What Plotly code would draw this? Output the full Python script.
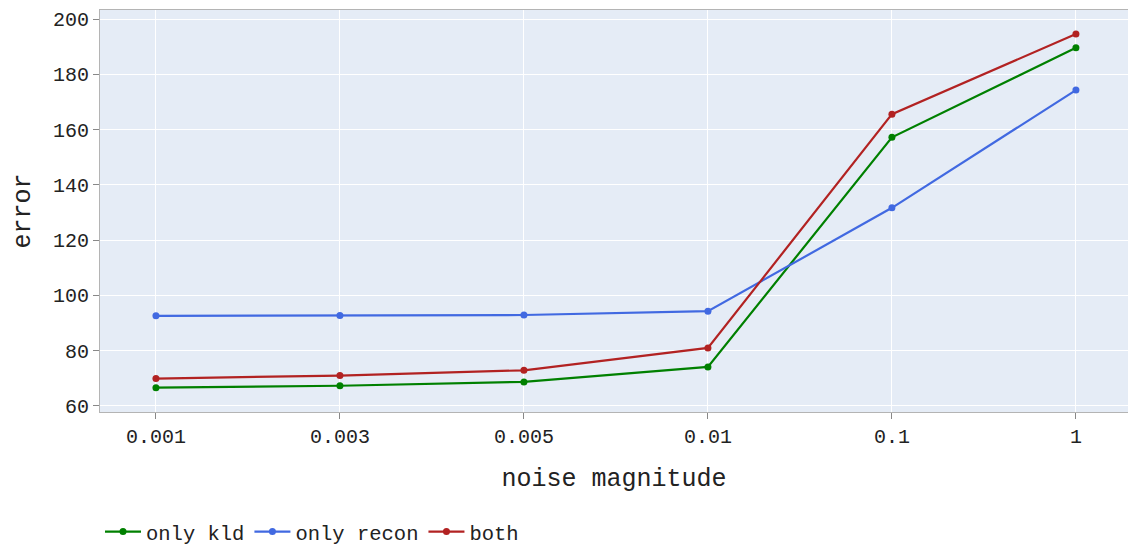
import plotly.graph_objects as go

noise_levels = ["0.001", "0.003", "0.005", "0.01", "0.1", "1"]
only_kld = [66.6, 67.3, 68.7, 74.1, 157.2, 189.6]
only_recon = [92.6, 92.7, 92.9, 94.3, 131.7, 174.3]
both = [69.9, 71.0, 72.9, 81.0, 165.6, 194.6]

FONT = "Liberation Mono, Courier New, monospace"

fig = go.Figure()
for name, vals, color in [
    ("only kld", only_kld, "green"),
    ("only recon", only_recon, "royalblue"),
    ("both", both, "firebrick"),
]:
    fig.add_trace(go.Scatter(
        x=noise_levels, y=vals, name=name, mode="lines+markers",
        line=dict(color=color, width=2.2), marker=dict(color=color, size=7),
    ))

axis_common = dict(
    showline=True, linecolor="#b4b4b4", linewidth=1, mirror=True,
    ticks="outside", ticklen=6, tickcolor="#888888",
    gridcolor="white", gridwidth=1, zeroline=False,
    tickfont=dict(family=FONT, size=20, color="#222"),
)

fig.update_layout(
    width=1128, height=550,
    margin=dict(l=100, r=0, t=10, b=138, autoexpand=False),
    plot_bgcolor="#E5ECF6", paper_bgcolor="white",
    font=dict(family=FONT, size=20, color="#222"),
    xaxis=dict(type="category", range=[-0.304, 5.283],
               title=dict(text="noise magnitude", standoff=20,
                          font=dict(family=FONT, size=25)),
               **axis_common),
    yaxis=dict(range=[57.8, 203.3], dtick=20,
               title=dict(text="error", font=dict(family=FONT, size=25)),
               **axis_common),
    legend=dict(orientation="h", x=0, xanchor="left", y=-0.298, yanchor="middle",
                itemwidth=36,
                font=dict(family=FONT, size=20.5), bgcolor="rgba(0,0,0,0)"),
    showlegend=True,
)

fig.write_html("out.html")
